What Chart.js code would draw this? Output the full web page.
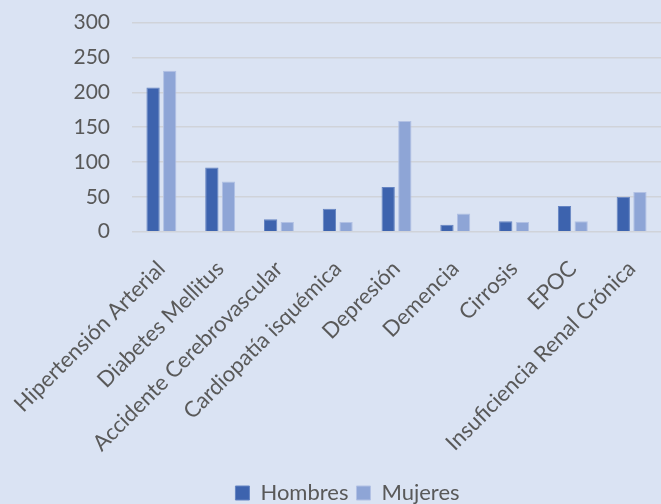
<!DOCTYPE html>
<html>
<head>
<meta charset="utf-8">
<script src="https://cdn.jsdelivr.net/npm/chart.js@4/dist/chart.umd.min.js"></script>
<style>
html,body{margin:0;padding:0;background:#dae3f3;}
#wrap{width:661px;height:504px;position:relative;}
</style>
</head>
<body>
<div id="wrap"><canvas id="c" width="661" height="504"></canvas></div>
<script>
const categories = ["Hipertensión Arterial","Diabetes Mellitus","Accidente Cerebrovascular","Cardiopatía isquémica","Depresión","Demencia","Cirrosis","EPOC","Insuficiencia Renal Crónica"];
const hombres = [207, 92, 18, 33, 64, 10, 15, 37, 50];
const mujeres = [231, 72, 14, 14, 159, 26, 14, 15, 57];
const yTicks = [0, 50, 100, 150, 200, 250, 300];

const FONT = "Lato, 'Open Sans', sans-serif";
const TXT = "#595959";

const bgPlugin = {
  id: 'bg',
  beforeDraw(chart) {
    const ctx = chart.ctx;
    ctx.save();
    ctx.fillStyle = '#dae3f3';
    ctx.fillRect(0, 0, chart.width, chart.height);
    ctx.restore();
  }
};
const legendShift = {
  id: 'legendShift',
  afterLayout(chart) {
    const l = chart.legend;
    if (l) { l.left += 17; l.right += 17; l.top += 14; l.bottom += 14; }
  }
};

new Chart(document.getElementById('c'), {
  type: 'bar',
  data: {
    labels: categories,
    datasets: [
      { label: 'Hombres', data: hombres, backgroundColor: '#3d63ae', borderColor: '#6584c2', borderWidth: 1, categoryPercentage: 0.566, barPercentage: 0.8 },
      { label: 'Mujeres', data: mujeres, backgroundColor: '#8ea5d6', borderColor: '#b2c1e4', borderWidth: 1, categoryPercentage: 0.566, barPercentage: 0.8 }
    ]
  },
  options: {
    responsive: false,
    animation: false,
    layout: { padding: { top: 22.7, left: 0, right: 0, bottom: 4 } },
    plugins: {
      legend: {
        position: 'bottom',
        labels: {
          font: { family: FONT, size: 22 },
          color: TXT,
          boxWidth: 14,
          boxHeight: 14,
          padding: 8,
          useBorderRadius: false
        }
      },
      tooltip: { enabled: false }
    },
    scales: {
      x: {
        grid: { display: false, drawTicks: false },
        border: { display: false },
        ticks: {
          font: { family: FONT, size: 22 },
          color: TXT,
          minRotation: 45,
          maxRotation: 45,
          autoSkip: false,
          padding: 24
        },
        afterFit(scale) { scale.height = 228.3; scale.paddingLeft = 0; scale.paddingRight = 0; }
      },
      y: {
        min: 0,
        max: 300,
        afterBuildTicks(scale) { scale.ticks = yTicks.map(v => ({ value: v })); },
        grid: { color: '#d0d3d9', lineWidth: 1.5, drawTicks: false },
        border: { display: false },
        ticks: {
          font: { family: FONT, size: 21 },
          color: TXT,
          padding: 22
        },
        afterFit(scale) { scale.width = 132; scale.paddingTop = 0; scale.paddingBottom = 0; }
      }
    }
  },
  plugins: [bgPlugin, legendShift]
});
</script>
</body>
</html>
